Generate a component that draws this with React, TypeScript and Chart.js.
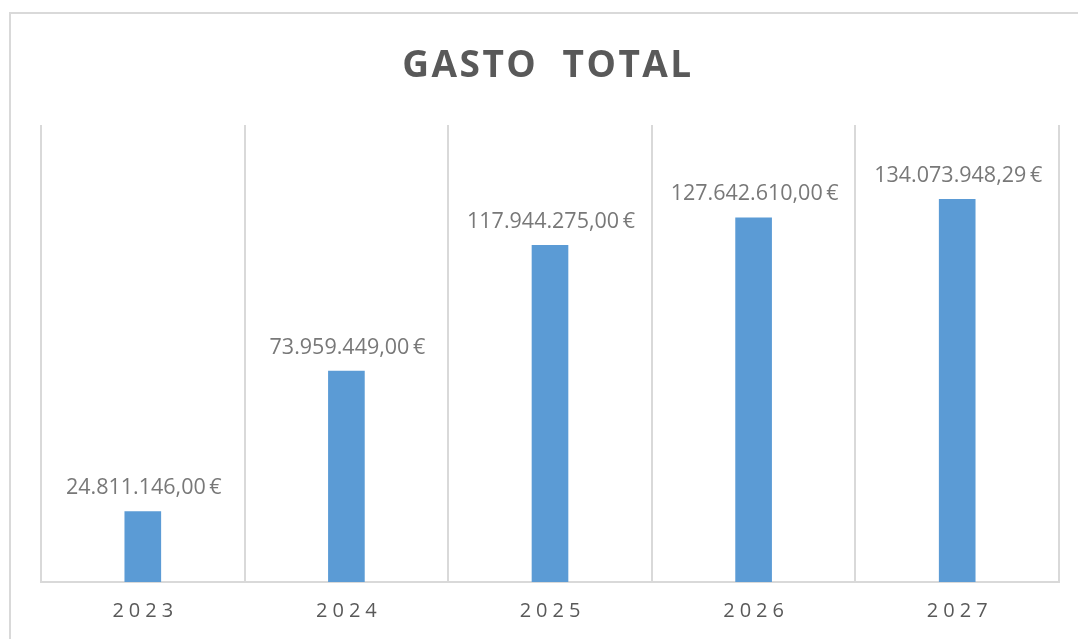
import React, { useEffect, useRef } from "react";
import { Chart, registerables } from "chart.js";

Chart.register(...registerables);

const TITLE = "GASTO  TOTAL";
const YEARS = ["2023", "2024", "2025", "2026", "2027"];
const GASTO = [24811146.0, 73959449.0, 117944275.0, 127642610.0, 134073948.29];
const Y_MAX = 160000000;

function formatEuro(v: number): string {
  const fixed = v.toFixed(2);
  const [intPart, dec] = fixed.split(".");
  const grouped = intPart.replace(/\B(?=(\d{3})+(?!\d))/g, ".");
  return grouped + "," + dec + "\u2009€";
}

const decorPlugin = {
  id: "decor",
  beforeDraw(chart: any) {
    const ctx = chart.ctx;
    ctx.save();
    ctx.strokeStyle = "#d9d9d9";
    ctx.lineWidth = 2;
    ctx.strokeRect(10, 13, 1300, 900);
    ctx.restore();
  },
  afterDraw(chart: any) {
    const ctx = chart.ctx;
    const area = chart.chartArea;
    const xScale = chart.scales.x;
    ctx.save();
    // title
    ctx.fillStyle = "#595959";
    ctx.font = "bold 37px 'Open Sans'";
    (ctx as any).letterSpacing = "2.5px";
    ctx.textAlign = "center";
    ctx.textBaseline = "alphabetic";
    ctx.fillText(TITLE, (area.left + area.right) / 2 - 2, 77);
    // x labels
    ctx.font = "20px 'Open Sans'";
    (ctx as any).letterSpacing = "5px";
    ctx.textBaseline = "middle";
    ctx.fillStyle = "#595959";
    chart.data.labels.forEach((lab: string, i: number) => {
      ctx.fillText(lab, xScale.getPixelForValue(i) + 2.5, 611);
    });
    // data labels
    (ctx as any).letterSpacing = "0px";
    ctx.font = "21.5px 'Open Sans'";
    ctx.fillStyle = "#787878";
    ctx.textBaseline = "alphabetic";
    const meta = chart.getDatasetMeta(0);
    meta.data.forEach((bar: any, i: number) => {
      const v = chart.data.datasets[0].data[i];
      ctx.fillText(formatEuro(v), bar.x + 1, bar.y - 17);
    });
    ctx.restore();
  },
};

export default function App() {
  const ref = useRef<HTMLCanvasElement | null>(null);
  useEffect(() => {
    document.body.style.margin = "0";
    document.body.style.overflow = "hidden";
    const chart = new Chart(ref.current!, {
      type: "bar",
      data: {
        labels: YEARS,
        datasets: [
          {
            label: "Gasto total",
            data: GASTO,
            backgroundColor: "#5b9bd5",
            barPercentage: 0.18,
            categoryPercentage: 1,
          },
        ],
      },
      options: {
        animation: false,
        responsive: false,
        maintainAspectRatio: false,
        layout: { padding: { left: 41, right: 19, top: 125, bottom: 57 } },
        plugins: {
          legend: { display: false },
          title: { display: false },
          tooltip: { enabled: false },
        },
        scales: {
          x: {
            ticks: { display: false },
            grid: { color: "#d9d9d9", lineWidth: 2, drawTicks: false, offset: true },
            border: { display: true, color: "#d9d9d9", width: 2 },
          },
          y: {
            display: false,
            min: 0,
            max: Y_MAX,
          },
        },
      },
      plugins: [decorPlugin],
    });
    return () => chart.destroy();
  }, []);
  return (
    <div style={{ position: "absolute", left: 0, top: 0, width: 1078, height: 639 }}>
      <canvas ref={ref} width={1078} height={639} style={{ display: "block" }} />
    </div>
  );
}
